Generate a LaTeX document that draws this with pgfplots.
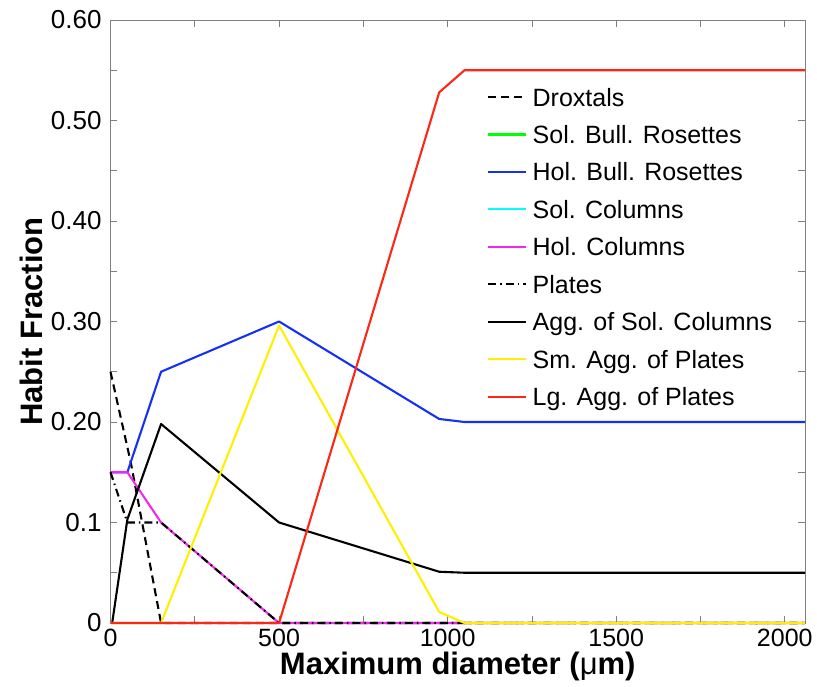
\documentclass[border=0pt]{standalone}
\usepackage{pgfplots}
\pgfplotsset{compat=1.18}
\usepackage{fontspec}
\setmainfont{Liberation Sans}

% MATLAB-style line colours
\definecolor{mgreen}{rgb}{0,1,0}
\definecolor{mblue}{RGB}{20,50,245}
\definecolor{mcyan}{rgb}{0,1,1}
\definecolor{mmagenta}{RGB}{240,40,240}
\definecolor{myellow}{RGB}{255,240,0}
\definecolor{mred}{RGB}{250,40,20}
\definecolor{axgray}{RGB}{128,128,128}

\begin{document}
\begin{tikzpicture}
\begin{axis}[
  scale only axis,
  width=694.5pt, height=603pt,
  xmin=0, xmax=2060, ymin=0, ymax=0.6,
  clip=false,
  xtick={0,500,1000,1500,2000},
  xticklabels={0,500,1000,1500,2000},
  ytick={0,0.1,0.2,0.3,0.4,0.5,0.6},
  yticklabels={0,0.1,0.20,0.30,0.40,0.50,0.60},
  minor x tick num=1, minor y tick num=1,
  tick align=inside,
  major tick length=7pt, minor tick length=7pt,
  axis line style={axgray, line width=0.8pt},
  every tick/.style={axgray, line width=0.8pt},
  /pgf/number format/assume math mode=true,
  xticklabel style={font=\fontsize{25}{30}\selectfont, inner sep=1pt, yshift=-5pt},
  yticklabel style={font=\fontsize{26}{31}\selectfont, inner sep=1pt, xshift=-7.8pt},
  xlabel={Maximum diameter ({\mdseries μ}m)},
  ylabel={Habit Fraction},
  xlabel style={font=\fontsize{31}{36}\selectfont\bfseries, inner sep=0pt,
    at={(axis description cs:0.5,-0.0846)}, anchor=base},
  ylabel style={font=\fontsize{31}{36}\selectfont\bfseries, inner sep=0pt,
    at={(axis description cs:-0.0972,0.5)}, anchor=base},
  legend cell align=left,
  legend style={at={(axis description cs:0.5421,0.8872)}, anchor=north west,
    draw=none, fill=none, inner sep=0pt, outer sep=0pt,
    row sep=19.45pt, column sep=5.6pt,
    font=\fontsize{25}{30}\selectfont,
    nodes={inner sep=0pt, text height=18pt, text depth=0pt}},
  legend image code/.code={\draw[#1] (0pt,0pt) -- (38pt,0pt);},
  every axis plot/.append style={line width=2.1pt, line join=round},
]
% Droxtals
\addplot[black, dash pattern=on 8pt off 5pt] coordinates {
  (0,0.25) (60,0.16) (150,0) (2060,0)};
\addlegendentry{Droxtals}
% Solid bullet rosettes
\addplot[mgreen] coordinates {(0,0) (2060,0)};
\addlegendentry{Sol. Bull. Rosettes}
% Hollow bullet rosettes
\addplot[mblue] coordinates {
  (0,0.15) (50,0.15) (150,0.25) (500,0.30) (975,0.203) (1050,0.20) (2060,0.20)};
\addlegendentry{Hol. Bull. Rosettes}
% Solid columns
\addplot[mcyan] coordinates {(0,0) (2060,0)};
\addlegendentry{Sol. Columns}
% Hollow columns
\addplot[mmagenta] coordinates {
  (0,0.15) (50,0.15) (150,0.10) (500,0) (2060,0)};
\addlegendentry{Hol. Columns}
% Plates
\addplot[black, dash pattern=on 8pt off 4pt on 1.5pt off 4pt] coordinates {
  (0,0.15) (50,0.10) (150,0.10) (500,0) (2060,0)};
\addlegendentry{Plates}
% Aggregates of solid columns
\addplot[black] coordinates {
  (5,0) (50,0.103) (150,0.198) (500,0.10) (975,0.051) (1050,0.05) (2060,0.05)};
\addlegendentry{Agg. of Sol. Columns}
% Small aggregates of plates
\addplot[myellow] coordinates {
  (0,0) (150,0) (500,0.296) (975,0.011) (1050,0) (2060,0)};
\addlegendentry{Sm. Agg. of Plates}
% Large aggregates of plates
\addplot[mred] coordinates {
  (0,0) (500,0) (975,0.528) (1050,0.55) (2060,0.55)};
\addlegendentry{Lg. Agg. of Plates}
\end{axis}
\pgfresetboundingbox
\useasboundingbox (-110.5pt,-64pt) rectangle (706.5pt,623pt);
\end{tikzpicture}
\end{document}
